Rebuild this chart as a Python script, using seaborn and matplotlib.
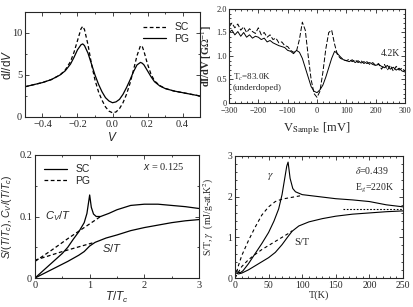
import numpy as np
import pandas as pd
import matplotlib
matplotlib.use("Agg")
import matplotlib.pyplot as plt
import seaborn as sns
from matplotlib.ticker import MultipleLocator

sns.set_style("ticks")
plt.rcParams['font.family'] = ['Liberation Serif', 'DejaVu Serif']
plt.rcParams['mathtext.fontset'] = 'custom'
plt.rcParams['mathtext.rm'] = 'Liberation Sans'
plt.rcParams['mathtext.it'] = 'Liberation Sans:italic'
plt.rcParams['mathtext.bf'] = 'Liberation Sans:bold'

# ---------------- Panel A: model dI/dV ----------------
a_v = [-0.5, -0.45, -0.4, -0.35, -0.3, -0.27, -0.24, -0.22, -0.2, -0.18, -0.17, -0.16,
       -0.14, -0.12, -0.1, -0.08, -0.06, -0.04, -0.02, 0.0, 0.02, 0.04, 0.06, 0.08,
       0.1, 0.12, 0.14, 0.16, 0.17, 0.18, 0.2, 0.22, 0.24, 0.27, 0.3, 0.35, 0.4, 0.45, 0.5]
a_pg = [3.6, 3.85, 4.1, 4.45, 5.0, 5.5, 6.3, 7.1, 8.0, 8.6, 8.7, 8.5,
        7.6, 6.3, 5.0, 3.9, 3.0, 2.3, 1.9, 1.7, 1.8, 2.1, 2.7, 3.5,
        4.4, 5.4, 6.2, 6.5, 6.4, 6.2, 5.5, 4.8, 4.2, 3.7, 3.4, 3.1, 2.9, 2.7, 2.5]
a_sc = [3.6, 3.85, 4.1, 4.45, 5.0, 5.6, 6.6, 7.7, 9.1, 10.5, 10.8, 10.4,
        8.6, 6.3, 4.4, 3.0, 2.0, 1.2, 0.7, 0.5, 0.6, 1.0, 1.7, 2.7,
        4.0, 5.6, 7.3, 8.5, 8.4, 7.8, 6.3, 5.1, 4.3, 3.75, 3.4, 3.1, 2.9, 2.7, 2.5]

# ---------------- Panel B: experimental dI/dV ----------------
b_v = list(range(-300, 301, 10))
b_dash = [1.62, 1.70, 1.60, 1.68, 1.55, 1.62, 1.50, 1.58, 1.52, 1.48, 1.60, 1.45, 1.50, 1.40,
          1.45, 1.35, 1.38, 1.28, 1.30, 1.22, 1.20, 1.12, 1.08, 1.10, 1.35, 1.72, 1.55, 1.00,
          0.50, 0.20, 0.12, 0.25, 0.65, 1.15, 1.50, 1.55, 1.25, 1.02, 0.95, 0.92, 0.90, 0.93,
          0.88, 0.92, 0.86, 0.90, 0.84, 0.88, 0.82, 0.86, 0.80, 0.84, 0.72, 0.82, 0.70, 0.80,
          0.68, 0.78, 0.70, 0.74, 0.68]
b_solid = [1.50, 1.55, 1.45, 1.52, 1.42, 1.50, 1.40, 1.45, 1.38, 1.42, 1.40, 1.35, 1.38, 1.30,
           1.33, 1.28, 1.25, 1.22, 1.20, 1.18, 1.12, 1.10, 1.05, 1.12, 1.08, 0.95, 0.75, 0.55,
           0.35, 0.25, 0.22, 0.28, 0.38, 0.55, 0.75, 0.95, 1.10, 1.05, 0.98, 0.92, 0.90, 0.88,
           0.92, 0.86, 0.90, 0.85, 0.88, 0.84, 0.86, 0.82, 0.80, 0.82, 0.78, 0.75, 0.80, 0.72,
           0.76, 0.70, 0.74, 0.68, 0.66]

# ---------------- Panel C: model C/T and S/T ----------------
c_t_cv_sc = [0.0, 0.1, 0.25, 0.4, 0.5, 0.6, 0.7, 0.8, 0.9, 0.95, 1.0, 1.03, 1.07, 1.12, 1.2,
             1.35, 1.5, 1.75, 2.0, 2.25, 2.5, 2.75, 3.0]
c_cv_sc = [0.0, 0.008, 0.02, 0.032, 0.04, 0.05, 0.063, 0.075, 0.09, 0.105, 0.135, 0.115, 0.104,
           0.1, 0.1, 0.105, 0.111, 0.118, 0.12, 0.12, 0.118, 0.116, 0.113]
c_t_cv_pg = [0.0, 0.3, 0.6, 0.9, 1.2]
c_cv_pg = [0.027, 0.045, 0.064, 0.082, 0.1]
c_t_s_sc = [0.0, 0.2, 0.4, 0.6, 0.8, 0.9, 1.0, 1.1, 1.3, 1.5, 1.75, 2.0, 2.25, 2.5, 2.75, 3.0]
c_s_sc = [0.0, 0.009, 0.018, 0.027, 0.037, 0.043, 0.052, 0.058, 0.065, 0.07, 0.077, 0.082,
          0.086, 0.09, 0.093, 0.095]
c_t_s_pg = [0.0, 0.5, 1.05]
c_s_pg = [0.029, 0.043, 0.057]

# ---------------- Panel D: experimental gamma and S/T ----------------
d_t_g = [2, 5, 8, 12, 20, 30, 40, 50, 58, 65, 70, 74, 77, 79, 82, 86, 90, 100, 125, 150,
         175, 200, 225, 250]
d_g = [0.15, 0.14, 0.13, 0.18, 0.35, 0.6, 0.85, 1.12, 1.4, 1.7, 2.05, 2.45, 2.75, 2.85,
       2.45, 2.2, 2.12, 2.05, 2.0, 1.95, 1.92, 1.88, 1.8, 1.75]
d_t_gpg = [0, 5, 10, 20, 30, 40, 50, 60, 70, 80, 90, 100]
d_gpg = [0.0, 0.3, 0.55, 0.92, 1.25, 1.55, 1.75, 1.88, 1.94, 1.97, 2.0, 2.03]
d_t_s = [2, 5, 10, 20, 30, 40, 50, 60, 70, 78, 85, 95, 110, 130, 150, 175, 200, 225, 250]
d_s = [0.12, 0.1, 0.12, 0.2, 0.3, 0.4, 0.5, 0.63, 0.82, 1.0, 1.15, 1.28, 1.38, 1.46, 1.52,
       1.57, 1.6, 1.63, 1.65]
d_t_spg = [0, 10, 20, 30, 40, 50, 60, 70, 80, 85]
d_spg = [0.0, 0.28, 0.45, 0.58, 0.7, 0.8, 0.9, 1.0, 1.1, 1.16]
d_t_norm = [160, 250]
d_norm = [1.7, 1.7]

W, H = 413, 307
fig = plt.figure(figsize=(W / 100, H / 100), dpi=100)

def rect(l, t, r, b):
    return [l / W, 1 - b / H, (r - l) / W, (b - t) / H]

def style(ax, fs):
    ax.tick_params(which='both', direction='in', top=True, right=True, labelsize=fs,
                   pad=2, width=0.6)
    ax.tick_params(which='major', length=3)
    ax.tick_params(which='minor', length=1.5)
    for s in ax.spines.values():
        s.set_linewidth(0.8)

# Panel A
ax1 = fig.add_axes(rect(25, 12, 200, 117))
dfa = pd.DataFrame({'V': a_v * 2, 'g': a_sc + a_pg, 'kind': ['SC'] * len(a_v) + ['PG'] * len(a_v)})
sns.lineplot(data=dfa, x='V', y='g', style='kind', style_order=['SC', 'PG'],
             dashes={'SC': (3, 2), 'PG': ''}, color='black', lw=0.9, ax=ax1,
             estimator=None, sort=False)
ax1.set_xlim(-0.5, 0.5)
ax1.set_ylim(0, 12.5)
ax1.xaxis.set_major_locator(MultipleLocator(0.2))
ax1.xaxis.set_minor_locator(MultipleLocator(0.1))
ax1.yaxis.set_major_locator(MultipleLocator(5))
ax1.yaxis.set_minor_locator(MultipleLocator(2.5))
ax1.set_xlabel('$V$', fontsize=8.5, math_fontfamily='custom')
ax1.set_ylabel('d$I$/d$V$', fontsize=8.5, family='Liberation Sans', math_fontfamily='custom')
ax1.xaxis.set_label_coords(0.5, -0.135)
ax1.yaxis.set_label_coords(-0.065, 0.5)
ax1.legend(frameon=False, loc='upper right', handlelength=2.2,
           borderaxespad=0.6, labelspacing=0.15, prop={'family': 'Liberation Sans', 'size': 7.5})
style(ax1, 7.5)

# Panel B
ax2 = fig.add_axes(rect(229, 9, 405, 103))
dfb = pd.DataFrame({'V': b_v * 2, 'g': b_dash + b_solid,
                    'kind': ['a'] * len(b_v) + ['b'] * len(b_v)})
sns.lineplot(data=dfb, x='V', y='g', style='kind', style_order=['a', 'b'],
             dashes={'a': (5, 2), 'b': ''}, color='black', lw=0.7, ax=ax2,
             estimator=None, sort=False, legend=False)
ax2.set_xlim(-300, 300)
ax2.set_ylim(0, 2.0)
ax2.xaxis.set_major_locator(MultipleLocator(100))
ax2.xaxis.set_minor_locator(MultipleLocator(20))
ax2.yaxis.set_minor_locator(MultipleLocator(0.1))
ax2.set_yticks([0, 0.5, 1.0, 1.5, 2.0])
ax2.set_yticklabels(['0', '0.5', '1.0', '1.5', '2.0'])
ax2.set_xlabel('V$_{\\mathrm{Sample}}$ [mV]', fontsize=9, math_fontfamily='stix')
ax2.set_ylabel('dI/dV [G$\\Omega^{-1}$]', fontsize=7.5, fontweight='bold', math_fontfamily='stix')
ax2.xaxis.set_label_coords(0.5, -0.18)
ax2.yaxis.set_label_coords(-0.085, 0.5)
ax2.text(-288, 0.5, 'T$_c$=83.0K', fontsize=6.5, math_fontfamily='stix')
ax2.text(-288, 0.27, '(underdoped)', fontsize=6.5)
ax2.text(218, 1.0, '4.2K', fontsize=7)
style(ax2, 6)
ax2.tick_params(axis='x', pad=3)
ax2.tick_params(axis='y', pad=1.5)

# Panel C
ax3 = fig.add_axes(rect(35, 155, 199, 278))
dfc = pd.DataFrame({
    'T': c_t_cv_sc + c_t_cv_pg + c_t_s_sc + c_t_s_pg,
    'v': c_cv_sc + c_cv_pg + c_s_sc + c_s_pg,
    'kind': ['SC'] * len(c_t_cv_sc) + ['PG'] * len(c_t_cv_pg) + ['SC'] * len(c_t_s_sc) + ['PG'] * len(c_t_s_pg),
    'qty': ['cv'] * (len(c_t_cv_sc) + len(c_t_cv_pg)) + ['s'] * (len(c_t_s_sc) + len(c_t_s_pg)),
})
dfc['grp'] = dfc['qty'] + dfc['kind']
sns.lineplot(data=dfc, x='T', y='v', units='grp', style='kind', style_order=['SC', 'PG'],
             dashes={'SC': '', 'PG': (3, 2)}, color='black', lw=0.9, ax=ax3,
             estimator=None, sort=False)
ax3.set_xlim(0, 3)
ax3.set_ylim(0, 0.2)
ax3.xaxis.set_major_locator(MultipleLocator(1))
ax3.xaxis.set_minor_locator(MultipleLocator(0.5))
ax3.yaxis.set_minor_locator(MultipleLocator(0.05))
ax3.set_yticks([0, 0.1, 0.2])
ax3.set_yticklabels(['0', '0.1', '0.2'])
ax3.set_xlabel('$T/T_c$', fontsize=8.5, math_fontfamily='custom')
ax3.set_ylabel('$S/(T/T_c)$, $C_V/(T/T_c)$', fontsize=7.5, math_fontfamily='custom')
ax3.xaxis.set_label_coords(0.5, -0.1)
ax3.yaxis.set_label_coords(-0.13, 0.5)
ax3.legend(frameon=False, loc='upper left', handlelength=2.2, borderaxespad=0.5,
           labelspacing=0.15, prop={'family': 'Liberation Sans', 'size': 7.5})
ax3.text(2.35, 0.175, '$x$ = 0.125', fontsize=7.5, ha='center', math_fontfamily='custom')
ax3.text(0.18, 0.095, '$C_V/T$', fontsize=8, math_fontfamily='custom')
ax3.text(1.22, 0.043, '$S/T$', fontsize=8, math_fontfamily='custom')
style(ax3, 7.5)

# Panel D
ax4 = fig.add_axes(rect(235, 156, 403, 278))
dfd = pd.DataFrame({
    'T': d_t_g + d_t_gpg + d_t_s + d_t_spg + d_t_norm,
    'v': d_g + d_gpg + d_s + d_spg + d_norm,
    'grp': ['g'] * len(d_t_g) + ['gpg'] * len(d_t_gpg) + ['s'] * len(d_t_s)
           + ['spg'] * len(d_t_spg) + ['n'] * len(d_t_norm),
})
sns.lineplot(data=dfd, x='T', y='v', style='grp',
             dashes={'g': '', 'gpg': (3, 2.5), 's': '', 'spg': (3, 2.5), 'n': (1.5, 1.5)},
             color='black', lw=0.8, ax=ax4, estimator=None, sort=False, legend=False)
ax4.set_xlim(0, 250)
ax4.set_ylim(0, 3)
ax4.xaxis.set_major_locator(MultipleLocator(50))
ax4.xaxis.set_minor_locator(MultipleLocator(10))
ax4.yaxis.set_minor_locator(MultipleLocator(0.2))
ax4.set_yticks([0, 1, 2, 3])
ax4.set_yticklabels(['0', '1', '2', '3'])
ax4.set_xlabel('T(K)', fontsize=7.5)
ax4.set_ylabel('S/T, $\\gamma$  (mJ/g-at.K$^2$)', fontsize=7, math_fontfamily='stix')
ax4.xaxis.set_label_coords(0.5, -0.105)
ax4.yaxis.set_label_coords(-0.113, 0.5)
ax4.text(48, 2.45, '$\\gamma$', fontsize=8, math_fontfamily='stix')
ax4.text(88, 0.8, 'S/T', fontsize=7.5)
ax4.text(178, 2.55, '$\\delta$=0.439', fontsize=7, math_fontfamily='stix')
ax4.text(178, 2.15, 'E$_g$=220K', fontsize=7, math_fontfamily='stix')
style(ax4, 7)

for ax in (ax1, ax2, ax3, ax4):
    for lab in ax.get_xticklabels() + ax.get_yticklabels():
        lab.set_fontfamily('Liberation Serif')

fig.savefig('out.png', dpi=100)
